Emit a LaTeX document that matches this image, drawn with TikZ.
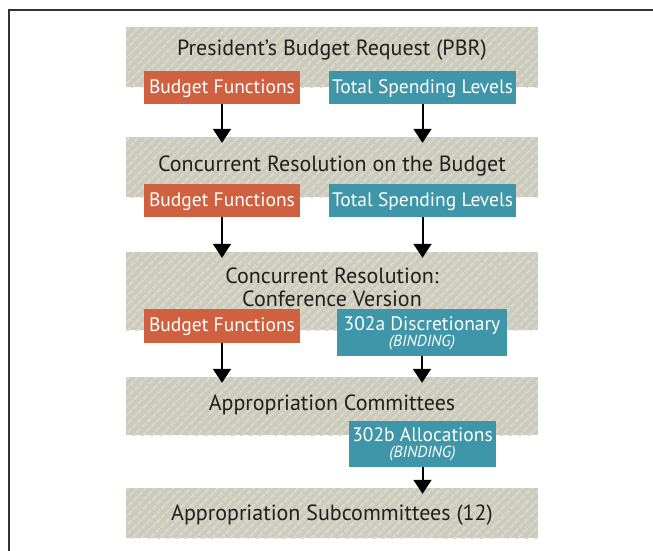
\documentclass[tikz,border=0pt]{standalone}
\usepackage{fontspec}
\setmainfont{PT Sans}
\usetikzlibrary{positioning, calc, arrows.meta, patterns.meta}
\definecolor{bandbase}{HTML}{CCCABB}
\definecolor{bandline}{HTML}{D8D7CB}
\definecolor{fnorange}{HTML}{CF6140}
\definecolor{lvlteal}{HTML}{3F96A9}
\definecolor{frameline}{HTML}{333333}
\tikzset{
  band/.style={minimum width=412pt, inner sep=0pt, preaction={fill=bandbase},
    pattern={Lines[angle=45, distance=6.5pt, line width=2.6pt]}, pattern color=bandline},
  bandtext/.style={font=\fontsize{22}{23}\selectfont, text=black!88, align=center, yshift=-2.5pt},
  fnbox/.style={fill=fnorange, text=white, inner sep=0pt, minimum height=33pt,
    font=\fontsize{19.5}{20}\selectfont, align=center, text depth=2pt},
  lvlbox/.style={fnbox, fill=lvlteal},
  arr/.style={-{Triangle[width=18pt, length=14pt]}, line width=2pt, shorten >=-6pt}
}
\newcommand{\binding}{\\[-4pt]{\fontsize{16}{16}\selectfont\itshape (BINDING)}}
\begin{document}
\begin{tikzpicture}[x=1pt, y=-1pt]
  \useasboundingbox (0,0) rectangle (653,550);
  % frame
  \draw[frameline, line width=2pt] (9,560) -- (9,10) -- (660,10);

  % bands
  \node[band, minimum height=60pt] (b1) at (332,57) {};
  \node[band, minimum height=60pt] (b2) at (332,167) {};
  \node[band, minimum height=78pt] (b3) at (332,291) {};
  \node[band, minimum height=58pt] (b4) at (332,406) {};
  \node[band, minimum height=50pt] (b5) at (332,513) {};

  \node[bandtext] (t1) at (332,48) {President’s Budget Request (PBR)};
  \node[bandtext] (t2) at (332,163) {Concurrent Resolution on the Budget};
  \node[bandtext] (t3) at (332,284.5) {Concurrent Resolution:\\Conference Version};
  \node[bandtext] (t4) at (332,402) {Appropriation Committees};
  \node[bandtext] (t5) at (332,513) {Appropriation Subcommittees (12)};

  % boxes
  \node[fnbox, minimum width=156pt] (f1) at (222,87.5) {Budget Functions};
  \node[lvlbox, minimum width=187pt] (l1) at (422.5,87.5) {Total Spending Levels};
  \node[fnbox, minimum width=156pt] (f2) at (222,200.5) {Budget Functions};
  \node[lvlbox, minimum width=187pt] (l2) at (422.5,200.5) {Total Spending Levels};
  \node[fnbox, minimum width=156pt, minimum height=34pt] (f3) at (222,326) {Budget Functions};
  \node[lvlbox, minimum width=170pt, minimum height=47pt] (l3) at (422,332.5) {302a Discretionary\binding};
  \node[lvlbox, minimum width=147pt, minimum height=46pt] (l4) at (422.5,444) {302b Allocations\binding};

  % arrows
  \draw[arr] (f1) -- (f1 |- b2.north);
  \draw[arr] (l1) -- (l1 |- b2.north);
  \draw[arr] (f2) -- (f2 |- b3.north);
  \draw[arr] (l2) -- (l2 |- b3.north);
  \draw[arr] (f3) -- (f3 |- b4.north);
  \draw[arr] (l3) -- (l3 |- b4.north);
  \draw[arr] (l4) -- (l4 |- b5.north);
\end{tikzpicture}
\end{document}
